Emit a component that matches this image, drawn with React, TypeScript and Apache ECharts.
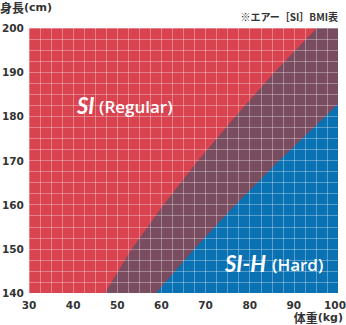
import React, { useEffect, useRef } from 'react';
import * as echarts from 'echarts';

// Axis ranges / tick labels
const weightTicks = [30, 40, 50, 60, 70, 80, 90, 100];
const heightTicks = [140, 150, 160, 170, 180, 190, 200];

// Boundary between SI (Regular) and mixed zone: [weight kg, height cm]
const regularBoundaryWeights = [47.2, 53.3, 60.5, 68.3, 76.8, 85.6, 95.2];
const regularBoundaryHeights = [140, 150, 160, 170, 180, 190, 200];

// Boundary of the SI-H (Hard) zone
const hardBoundaryWeights = [58.8, 67.5, 76.8, 86.7, 97.2, 100];
const hardBoundaryHeights = [140, 150, 160, 170, 180, 182.8];

const RED = '#d8434f';
const PURPLE = '#7a4c60';
const BLUE = '#0a71b2';

export default function App() {
  const ref = useRef<HTMLDivElement>(null);
  useEffect(() => {
    if (!ref.current) return;
    const chart = echarts.init(ref.current, undefined, { renderer: 'svg' });
    const xMin = weightTicks[0];
    const xMax = weightTicks[weightTicks.length - 1];
    const yMin = heightTicks[0];
    const yMax = heightTicks[heightTicks.length - 1];

    const purplePoly: number[][] = regularBoundaryWeights.map((w, i) => [w, regularBoundaryHeights[i]]);
    purplePoly.push([xMax, yMax], [xMax, yMin]);
    const bluePoly: number[][] = hardBoundaryWeights.map((w, i) => [w, hardBoundaryHeights[i]]);
    bluePoly.push([xMax, yMin]);
    const polys = [purplePoly, bluePoly];
    const colors = [PURPLE, BLUE];

    const labelStyle = {
      color: '#333',
      fontSize: 10.5,
      fontWeight: 'bold' as const,
      fontFamily: 'DejaVu Sans',
    };
    const gridLine = { color: 'rgba(255,255,255,0.32)', width: 1 };

    chart.setOption({
      animation: false,
      grid: {
        left: 29,
        right: 8,
        top: 28,
        bottom: 32,
        show: true,
        backgroundColor: RED,
        borderWidth: 0,
        containLabel: false,
        outerBoundsMode: 'none',
      },
      xAxis: {
        type: 'value',
        min: xMin,
        max: xMax,
        interval: 10,
        z: 10,
        axisLine: { show: false },
        axisTick: { show: false },
        axisLabel: {
          ...labelStyle,
          margin: 6,
          formatter: (v: number) => (v === xMax ? '{r|' + v + '}' : String(v)),
          rich: { r: { ...labelStyle, padding: [0, 6, 0, 0] } },
        },
        splitLine: { show: true, lineStyle: gridLine },
        minorTick: { show: false, splitNumber: 4 },
        minorSplitLine: { show: true, lineStyle: gridLine },
      },
      yAxis: {
        type: 'value',
        min: yMin,
        max: yMax,
        interval: 10,
        z: 10,
        axisLine: { show: false },
        axisTick: { show: false },
        axisLabel: { ...labelStyle, margin: 27, align: 'left' },
        splitLine: { show: true, lineStyle: gridLine },
        minorTick: { show: false, splitNumber: 4 },
        minorSplitLine: { show: true, lineStyle: gridLine },
      },
      series: [
        {
          type: 'custom',
          z: 2,
          clip: true,
          data: [[regularBoundaryWeights[0], regularBoundaryHeights[0]], [hardBoundaryWeights[0], hardBoundaryHeights[0]]],
          renderItem: (params: any, api: any) => {
            const idx = params.dataIndex;
            const pts = polys[idx].map((p) => api.coord(p));
            return {
              type: 'polygon',
              shape: { points: pts },
              style: { fill: colors[idx], stroke: null },
            };
          },
        },
      ],
      graphic: [
        {
          type: 'text',
          left: 0,
          top: 1,
          z: 20,
          style: {
            text: '{a|身長}{b|(cm)}',
            rich: {
              a: { fontSize: 12, fontWeight: 'bold', fill: '#333', fontFamily: 'Noto Sans CJK JP' },
              b: { fontSize: 11, fontWeight: 'bold', fill: '#333', fontFamily: 'DejaVu Sans' },
            },
          },
        },
        {
          type: 'text',
          right: 8,
          top: 11,
          z: 20,
          style: {
            text: '※エアー［SI］BMI表',
            fontSize: 10,
            fontWeight: 'bold',
            fill: '#333',
            fontFamily: 'Noto Sans CJK JP',
          },
        },
        {
          type: 'text',
          right: 3,
          top: 311,
          z: 20,
          style: {
            text: '{a|体重}{b|(kg)}',
            rich: {
              a: { fontSize: 12, fontWeight: 'bold', fill: '#333', fontFamily: 'Noto Sans CJK JP' },
              b: { fontSize: 11, fontWeight: 'bold', fill: '#333', fontFamily: 'DejaVu Sans' },
            },
          },
        },
        {
          type: 'text',
          x: 77,
          y: 105,
          z: 20,
          style: {
            text: 'SI',
            fontSize: 22,
            fontStyle: 'italic',
            fontWeight: 'bold',
            fontFamily: 'Lato',
            fill: '#fff',
            verticalAlign: 'middle',
          },
        },
        {
          type: 'text',
          x: 99,
          y: 106,
          z: 20,
          style: {
            text: '(Regular)',
            fontSize: 17,
            fontWeight: 600,
            fontFamily: 'Open Sans',
            fill: '#fff',
            verticalAlign: 'middle',
          },
        },
        {
          type: 'text',
          x: 225,
          y: 263,
          z: 20,
          style: {
            text: 'SI-H',
            fontSize: 22,
            fontStyle: 'italic',
            fontWeight: 'bold',
            fontFamily: 'Lato',
            fill: '#fff',
            verticalAlign: 'middle',
          },
        },
        {
          type: 'text',
          x: 272,
          y: 264,
          z: 20,
          style: {
            text: '(Hard)',
            fontSize: 17,
            fontWeight: 600,
            fontFamily: 'Open Sans',
            fill: '#fff',
            verticalAlign: 'middle',
          },
        },
      ],
    });
    return () => chart.dispose();
  }, []);
  return (
    <div
      ref={ref}
      style={{ position: 'fixed', left: 0, top: 0, width: 346, height: 325, background: '#fff' }}
    />
  );
}
